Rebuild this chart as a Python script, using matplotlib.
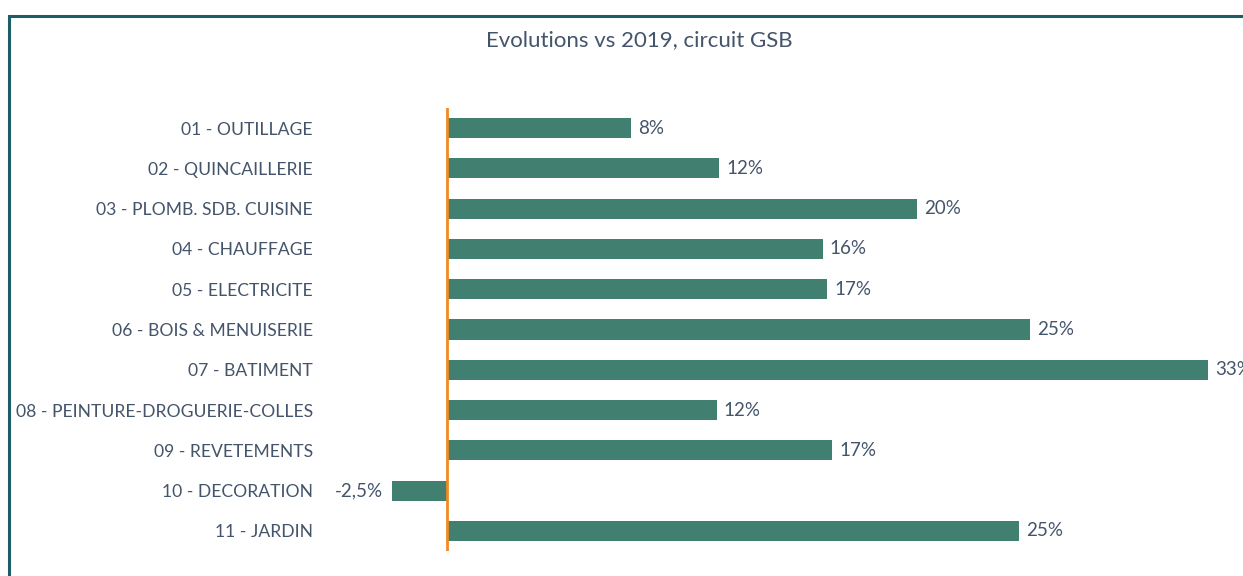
import matplotlib
matplotlib.use("Agg")
import matplotlib.pyplot as plt
from matplotlib.patches import Rectangle

categories = [
    "01 - OUTILLAGE",
    "02 - QUINCAILLERIE",
    "03 - PLOMB. SDB. CUISINE",
    "04 - CHAUFFAGE",
    "05 - ELECTRICITE",
    "06 - BOIS & MENUISERIE",
    "07 - BATIMENT",
    "08 - PEINTURE-DROGUERIE-COLLES",
    "09 - REVETEMENTS",
    "10 - DECORATION",
    "11 - JARDIN",
]
values = [8.0, 11.8, 20.4, 16.3, 16.5, 25.3, 33.0, 11.7, 16.7, -2.4, 24.8]
value_labels = ["8%", "12%", "20%", "16%", "17%", "25%", "33%", "12%", "17%", "-2,5%", "25%"]
title = "Evolutions vs 2019, circuit GSB"

plt.rcParams['font.family'] = ['Lato', 'DejaVu Sans']

bar_color = "#417f71"
line_color = "#f08a24"
text_color = "#44546a"
border_color = "#1d5e66"

fig = plt.figure(figsize=(12.43, 5.76), dpi=100)
fig.patch.set_facecolor("white")

# Border
fig.patches.append(Rectangle((9.0 / 1243, -0.1), 1.2, (1 - 15.5 / 576) + 0.1,
                             transform=fig.transFigure, fill=False,
                             edgecolor=border_color, linewidth=2.2, clip_on=False))

ax = fig.add_axes([382.4 / 1243, 1 - 551 / 576, (1231 - 382.4) / 1243, (551 - 108) / 576])
y = list(range(len(categories)))
ax.barh(y, values, height=0.5, color=bar_color, zorder=2)
ax.axvline(0, color=line_color, linewidth=2.0, zorder=3)
ax.set_xlim(-2.8, 34)
ax.set_ylim(len(categories) - 0.5, -0.5)

for yi, v, lab in zip(y, values, value_labels):
    if v >= 0:
        ax.annotate(lab, (v, yi), xytext=(5, 0), textcoords="offset points",
                    ha="left", va="center", fontsize=13.5, color=text_color)
    else:
        ax.annotate(lab, (v, yi), xytext=(-6, 0), textcoords="offset points",
                    ha="right", va="center", fontsize=13.5, color=text_color)

ax.set_yticks(y)
ax.set_yticklabels(categories, fontsize=12.6, color=text_color)
ax.tick_params(axis="y", length=0, pad=50)
ax.set_xticks([])
for s in ax.spines.values():
    s.set_visible(False)

fig.text(639 / 1243, 1 - 40 / 576, title, ha="center", va="center",
         fontsize=16, color=text_color)

fig.savefig("out.png", dpi=100)
